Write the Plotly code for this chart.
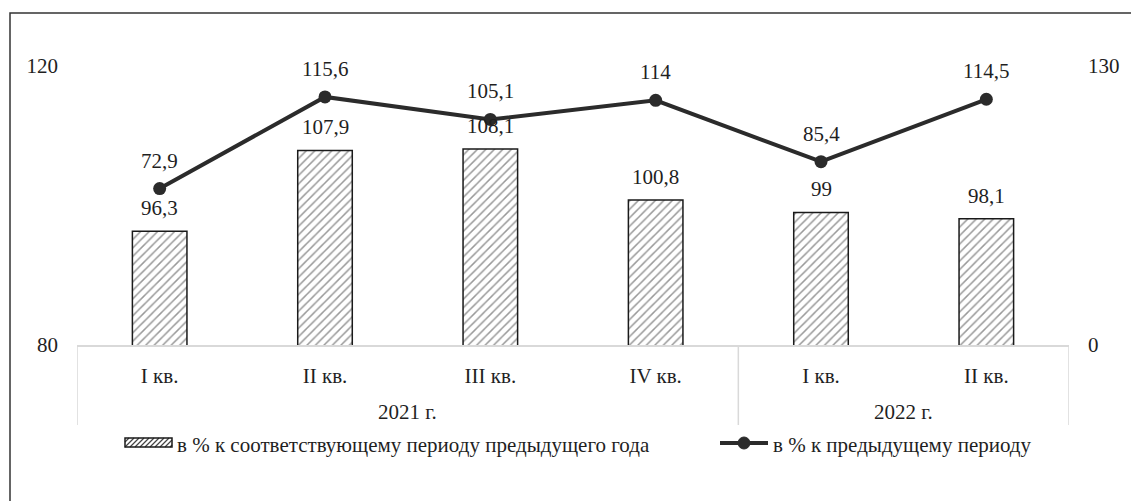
import plotly.graph_objects as go

quarters = ["I кв.", "II кв.", "III кв.", "IV кв.", "I кв.", "II кв."]
years = ["2021 г.", "2022 г."]
year_spans = [(0, 3), (4, 5)]
yoy_values = [96.3, 107.9, 108.1, 100.8, 99, 98.1]
qoq_values = [72.9, 115.6, 105.1, 114, 85.4, 114.5]
yoy_name = "в % к соответствующему периоду предыдущего года"
qoq_name = "в % к предыдущему периоду"

W, H = 1131, 501
L, R, T, B = 77, 1069, 66, 345
FONT = "Liberation Serif"
TXT = "#1f1f1f"
FS = 21


def px(x):
    return (x - L) / (R - L)


def py(y):
    return (B - y) / (B - T)


def fmt(v):
    s = f"{v:g}"
    return s.replace(".", ",")


xs = list(range(len(quarters)))

fig = go.Figure()
fig.add_trace(go.Bar(
    x=xs, y=yoy_values, name=yoy_name, width=0.33,
    marker=dict(color="white", line=dict(color="#1a1a1a", width=1.5),
                pattern=dict(shape="/", fgcolor="#333", bgcolor="white", size=6, solidity=0.25)),
    showlegend=False, hoverinfo="skip",
))
fig.add_trace(go.Scatter(
    x=xs, y=qoq_values, name=qoq_name, yaxis="y2", mode="lines+markers",
    line=dict(color="#2b2b2b", width=4), marker=dict(size=13, color="#2b2b2b"),
    showlegend=False, hoverinfo="skip", cliponaxis=False,
))

annotations = []
for x, v in zip(xs, yoy_values):
    annotations.append(dict(x=x, y=v, xref="x", yref="y", text=fmt(v), showarrow=False,
                            yanchor="bottom", yshift=9, font=dict(family=FONT, size=FS, color=TXT)))
for x, v in zip(xs, qoq_values):
    annotations.append(dict(x=x, y=v, xref="x", yref="y2", text=fmt(v), showarrow=False,
                            yanchor="bottom", yshift=14, font=dict(family=FONT, size=FS, color=TXT)))
for name, (a, b) in zip(years, year_spans):
    annotations.append(dict(x=(a + b) / 2, y=py(412), xref="x", yref="paper", text=name,
                            showarrow=False, yanchor="middle", font=dict(family=FONT, size=FS, color=TXT)))

# legend (manual)
annotations.append(dict(x=px(175), y=py(445), xref="paper", yref="paper", text=yoy_name, showarrow=False,
                        xanchor="left", yanchor="middle", font=dict(family=FONT, size=FS, color=TXT)))
annotations.append(dict(x=px(771), y=py(445), xref="paper", yref="paper", text=qoq_name, showarrow=False,
                        xanchor="left", yanchor="middle", font=dict(family=FONT, size=FS, color=TXT)))

shapes = []
# category dividers
for b_edge in [-0.5, 3.5, 5.5]:
    shapes.append(dict(type="line", xref="x", yref="paper", x0=b_edge, x1=b_edge, y0=0, y1=py(425),
                       line=dict(color="#d9d9d9", width=1.5)))
# outer border
shapes.append(dict(type="rect", xref="paper", yref="paper", x0=px(10), x1=px(1140), y0=py(13), y1=py(520),
                   line=dict(color="#333", width=1.5), fillcolor="rgba(0,0,0,0)", layer="below"))
# legend swatch for bars
lx0, lx1, ly0, ly1 = 125, 172, 438, 447
path = ""
for k in range(lx0 - 10, lx1 + 2, 5):
    xa, ya = k, ly1
    xb, yb = k + (ly1 - ly0), ly0
    if xa < lx0:
        ya = ly1 - (lx0 - xa)
        xa = lx0
    if xb > lx1:
        yb = ly0 + (xb - lx1)
        xb = lx1
    if xa >= lx1 or xb <= lx0:
        continue
    path += f"M{px(xa)},{py(ya)} L{px(xb)},{py(yb)} "
shapes.append(dict(type="path", xref="paper", yref="paper", path=path, line=dict(color="#444", width=1.2)))
shapes.append(dict(type="rect", xref="paper", yref="paper", x0=px(lx0), x1=px(lx1), y0=py(ly0), y1=py(ly1),
                   line=dict(color="#1a1a1a", width=1.5)))
# legend line swatch
shapes.append(dict(type="line", xref="paper", yref="paper", x0=px(720), x1=px(768), y0=py(443), y1=py(443),
                   line=dict(color="#2b2b2b", width=4)))
shapes.append(dict(type="circle", xref="paper", yref="paper", x0=px(738), x1=px(750), y0=py(449), y1=py(437),
                   fillcolor="#2b2b2b", line=dict(color="#2b2b2b", width=1)))

fig.update_layout(
    width=W, height=H, margin=dict(l=L, r=W - R, t=T, b=H - B),
    paper_bgcolor="white", plot_bgcolor="white", showlegend=False,
    font=dict(family=FONT, size=FS, color=TXT),
    xaxis=dict(range=[-0.5, 5.5], tickvals=xs, ticktext=quarters, showgrid=False, zeroline=False,
               showline=True, linecolor="#d9d9d9", linewidth=1.5, ticks="", ticklabelstandoff=11,
               tickfont=dict(family=FONT, size=FS, color=TXT)),
    yaxis=dict(range=[80, 120], tickvals=[80, 120], showgrid=True, gridcolor="#d9d9d9", gridwidth=1.5,
               zeroline=False, showline=False, ticks="", ticklabelstandoff=18,
               tickfont=dict(family=FONT, size=FS, color=TXT)),
    yaxis2=dict(range=[0, 130], tickvals=[0, 130], overlaying="y", side="right", showgrid=False,
                zeroline=False, showline=False, ticks="", ticklabelstandoff=18,
                tickfont=dict(family=FONT, size=FS, color=TXT)),
    annotations=annotations, shapes=shapes,
)

fig.write_html("out.html", config={"displayModeBar": False},
               post_script="document.body.style.margin='0';document.body.style.overflow='hidden';")
